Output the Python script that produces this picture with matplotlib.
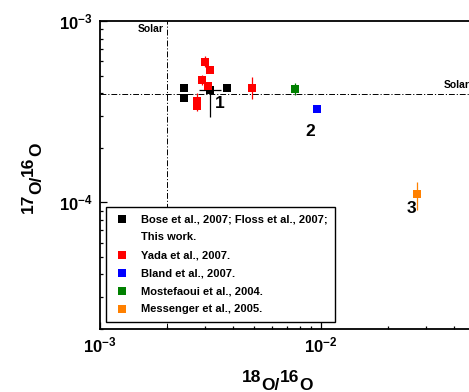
import numpy as np
import matplotlib
matplotlib.use('Agg')
import matplotlib.pyplot as plt
from matplotlib.lines import Line2D
from matplotlib.ticker import FixedLocator, NullFormatter, LogLocator

plt.rcParams['font.family'] = ['Liberation Sans', 'DejaVu Sans']
plt.rcParams['mathtext.fontset'] = 'custom'
plt.rcParams['mathtext.bf'] = 'Liberation Sans:bold'
plt.rcParams['mathtext.rm'] = 'Liberation Sans:bold'
plt.rcParams['mathtext.it'] = 'Liberation Sans:bold:italic'

# ---------------- data ----------------
solar_x = 2.005e-3
solar_y = 3.95e-4

black_x = [2.41e-3, 2.41e-3, 3.74e-3, 3.15e-3]
black_y = [4.27e-4, 3.76e-4, 4.27e-4, 4.14e-4]
black_xlo = [2.41e-3, 2.41e-3, 3.74e-3, 2.81e-3]
black_xhi = [2.41e-3, 2.41e-3, 3.74e-3, 3.51e-3]
black_ylo = [4.27e-4, 3.76e-4, 4.27e-4, 2.97e-4]
black_yhi = [4.27e-4, 3.76e-4, 4.27e-4, 4.40e-4]

red_x = [2.99e-3, 3.15e-3, 2.90e-3, 3.07e-3, 2.74e-3, 2.74e-3, 4.87e-3]
red_y = [5.97e-4, 5.38e-4, 4.74e-4, 4.36e-4, 3.63e-4, 3.41e-4, 4.27e-4]
red_ylo = [5.61e-4, 5.38e-4, 4.45e-4, 4.36e-4, 3.18e-4, 3.41e-4, 3.71e-4]
red_yhi = [6.42e-4, 5.38e-4, 5.05e-4, 4.36e-4, 4.01e-4, 3.41e-4, 4.90e-4]

blue_x = [9.56e-3]
blue_y = [3.27e-4]

green_x = [7.63e-3]
green_y = [4.23e-4]
green_ylo = [3.92e-4]
green_yhi = [4.545e-4]

orange_x = [2.727e-2]
orange_y = [1.107e-4]
orange_ylo = [9.07e-5]
orange_yhi = [1.30e-4]

group_labels = ['1', '2', '3']
group_label_x = [3.50e-3, 8.96e-3, 2.573e-2]
group_label_y = [3.49e-4, 2.45e-4, 9.19e-5]

legend_labels = ['Bose et al., 2007; Floss et al., 2007;', 'This work.',
                 'Yada et al., 2007.', 'Bland et al., 2007.',
                 'Mostefaoui et al., 2004.', 'Messenger et al., 2005.']

x_ticks = [1e-3, 1e-2]
x_ticklabels = [r'$\mathbf{10^{-3}}$', r'$\mathbf{10^{-2}}$']
y_ticks = [1e-4, 1e-3]
y_ticklabels = [r'$\mathbf{10^{-4}}$', r'$\mathbf{10^{-3}}$']

# ---------------- figure ----------------
W, H = 469, 392
fig = plt.figure(figsize=(W / 100, H / 100), dpi=100)
ax = fig.add_axes([100 / W, (H - 329) / H, 442 / W, 308 / H])
ax.set_xscale('log')
ax.set_yscale('log')
ax.set_xlim(1e-3, 1e-1)
ax.set_ylim(2e-5, 1e-3)

ls_dd = (0, (6, 2, 1.2, 2))
ax.axvline(solar_x, color='k', lw=0.7, ls=ls_dd, zorder=1)
ax.axhline(solar_y, color='k', lw=0.7, ls=ls_dd, zorder=1)


def draw(xs, ys, color, xlo=None, xhi=None, ylo=None, yhi=None):
    xs = np.array(xs); ys = np.array(ys)
    xerr = None; yerr = None
    if xlo is not None:
        xerr = [xs - np.array(xlo), np.array(xhi) - xs]
    if ylo is not None:
        yerr = [ys - np.array(ylo), np.array(yhi) - ys]
    if xerr is not None or yerr is not None:
        ax.errorbar(xs, ys, xerr=xerr, yerr=yerr, fmt='none', ecolor=color,
                    elinewidth=0.9, capsize=0, zorder=2)
    ax.plot(xs, ys, 's', color=color, ms=6.2, mew=0, zorder=3)


draw(black_x, black_y, 'black', black_xlo, black_xhi, black_ylo, black_yhi)
draw(red_x, red_y, '#ff0000', ylo=red_ylo, yhi=red_yhi)
draw(blue_x, blue_y, '#0000ff')
draw(green_x, green_y, '#008000', ylo=green_ylo, yhi=green_yhi)
draw(orange_x, orange_y, '#ff8000', ylo=orange_ylo, yhi=orange_yhi)

for t, x, y in zip(group_labels, group_label_x, group_label_y):
    ax.text(x, y, t, ha='center', va='center', fontsize=12.5, fontweight='bold')

ax.text(1.95e-3, 9.03e-4, 'Solar', ha='right', va='center', fontsize=7.5,
        fontweight='bold')
ax.text(3.6e-2, 4.45e-4, 'Solar', ha='left', va='center', fontsize=7.5,
        fontweight='bold', clip_on=False)

# ticks
ax.xaxis.set_major_locator(FixedLocator(x_ticks))
ax.set_xticklabels(x_ticklabels)
ax.yaxis.set_major_locator(FixedLocator(y_ticks))
ax.set_yticklabels(y_ticklabels)
ax.xaxis.set_minor_locator(LogLocator(base=10, subs=np.arange(2, 10)))
ax.yaxis.set_minor_locator(LogLocator(base=10, subs=np.arange(2, 10)))
ax.xaxis.set_minor_formatter(NullFormatter())
ax.yaxis.set_minor_formatter(NullFormatter())
ax.tick_params(which='both', direction='in', top=False, right=False, width=0.9)
ax.tick_params(which='major', length=5, labelsize=12)
ax.tick_params(which='minor', length=2.5)
ax.tick_params(axis='y', which='major', pad=5)
ax.tick_params(axis='x', which='major', pad=5)
for s in ax.spines.values():
    s.set_linewidth(1.3)

# legend
cols = ['black', None, '#ff0000', '#0000ff', '#008000', '#ff8000']
handles = []
for c in cols:
    if c is None:
        handles.append(Line2D([], [], ls='none', marker=None))
    else:
        handles.append(Line2D([], [], ls='none', marker='s', color=c, ms=6.2, mew=0))
leg = ax.legend(handles, legend_labels, loc='upper left',
                bbox_to_anchor=(105.7 / W, (H - 206.7) / H),
                bbox_transform=fig.transFigure, borderaxespad=0,
                prop={'size': 8.0, 'weight': 'bold'}, frameon=True,
                fancybox=False, framealpha=1, edgecolor='black',
                borderpad=0.7, handlelength=1.6, handletextpad=0.85,
                labelspacing=0.72)
leg.get_frame().set_linewidth(1.0)
leg.set_zorder(5)

# axis labels built from pieces (numbers raised, O lowered)
fig.canvas.draw()
renderer = fig.canvas.get_renderer()
lab_fs = 12.5


def pieces_h(pieces, x0, base_num, base_o):
    x = x0
    for txt, low in pieces:
        yb = base_o if low else base_num
        t = fig.text(x / W, (H - yb) / H, txt, ha='left', va='baseline',
                     fontsize=lab_fs, fontweight='bold')
        x += t.get_window_extent(renderer).width


def pieces_v(pieces, y0, base_num, base_o):
    y = y0
    for txt, low in pieces:
        xb = base_o if low else base_num
        t = fig.text(xb / W, (H - y) / H, txt, ha='left', va='baseline',
                     rotation=90, rotation_mode='anchor',
                     fontsize=lab_fs, fontweight='bold')
        y -= t.get_window_extent(renderer).height


pieces_h([('18', False), ('O/', True), ('16', False), ('O', True)],
         241.7, 381.5, 389.5)
pieces_v([('17', False), ('O/', True), ('16', False), ('O', True)],
         213.3, 33.3, 41.5)

fig.savefig('out.png', dpi=100)
